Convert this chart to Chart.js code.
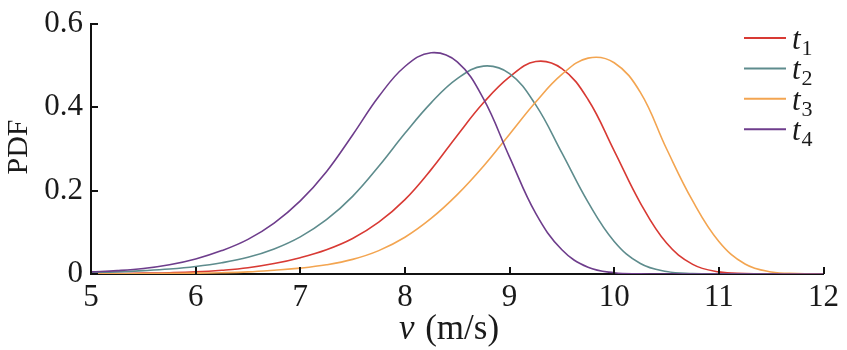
<!DOCTYPE html>
<html><head><meta charset="utf-8">
<script src="https://cdn.jsdelivr.net/npm/chart.js@4.4.0/dist/chart.umd.min.js"></script>
<style>html,body{margin:0;padding:0;background:#fff;}#wrap{width:847px;height:350px;}</style>
</head><body><div id="wrap"><canvas id="c" width="847" height="350"></canvas></div>
<script>
// wind speed v (m/s)
const speeds = [5.0,5.25,5.5,5.75,6.0,6.25,6.5,6.75,7.0,7.25,7.5,7.75,8.0,8.25,8.5,8.75,9.0,9.25,9.5,9.75,10.0,10.25,10.5,10.75,11.0,11.25,11.5,11.75,12.0];
// PDF values
const t1Values = [0.001,0.001,0.002,0.003,0.005,0.009,0.015,0.025,0.039,0.058,0.085,0.124,0.178,0.250,0.332,0.410,0.472,0.509,0.492,0.418,0.295,0.170,0.074,0.023,0.005,0.001,0,0,0];
const t2Values = [0.003,0.005,0.008,0.012,0.018,0.027,0.040,0.060,0.089,0.130,0.186,0.258,0.337,0.410,0.468,0.498,0.480,0.405,0.290,0.172,0.078,0.025,0.006,0.001,0,0,0,0,0];
const t3Values = [0,0.0005,0.001,0.0015,0.002,0.003,0.005,0.009,0.014,0.022,0.035,0.056,0.088,0.133,0.190,0.258,0.335,0.412,0.478,0.517,0.506,0.435,0.300,0.175,0.078,0.024,0.005,0.001,0];
const t4Values = [0.005,0.008,0.013,0.022,0.036,0.056,0.083,0.122,0.175,0.245,0.333,0.425,0.497,0.530,0.508,0.420,0.280,0.145,0.058,0.016,0.003,0.0005,0,0,0,0,0,0,0];
const seriesBase = ['t','t','t','t'];
const seriesSub = ['1','2','3','4'];
const xTicks = [5,6,7,8,9,10,11,12];
const yTicks = [0,0.2,0.4,0.6];
const xTitleItalic = 'v';
const xTitleRest = ' (m/s)';
const yTitle = 'PDF';

const colors = ['#d83a34','#5e8c8d','#f3a551','#6e3d8c'];
const FONT = '"Liberation Serif", "Times New Roman", serif';

function pts(vals){ return speeds.map((x,i)=>({x:x,y:vals[i]})); }
const allVals = [t1Values,t2Values,t3Values,t4Values];
const datasets = allVals.map((v,i)=>({
  label: seriesBase[i]+seriesSub[i],
  data: pts(v),
  borderColor: colors[i],
  backgroundColor: colors[i],
  borderWidth: 1.6,
  pointRadius: 0,
  tension: 0.4,
  fill: false,
  order: 4-i
}));

const decor = {
  id:'decor',
  afterDraw(chart){
    const ctx = chart.ctx, a = chart.chartArea;
    const xs = chart.scales.x, ys = chart.scales.y;
    ctx.save();
    ctx.strokeStyle = '#111'; ctx.lineWidth = 2;
    xTicks.forEach(t=>{ const p = Math.round(xs.getPixelForValue(t)); ctx.beginPath(); ctx.moveTo(p, a.bottom); ctx.lineTo(p, a.bottom-7); ctx.stroke(); });
    yTicks.forEach(t=>{ const p = Math.round(ys.getPixelForValue(t)); ctx.beginPath(); ctx.moveTo(a.left, p); ctx.lineTo(a.left+7, p); ctx.stroke(); });
    // x title
    ctx.fillStyle = '#1a1a1a';
    ctx.textBaseline = 'alphabetic';
    ctx.font = 'italic 35px ' + FONT;
    const w1 = ctx.measureText(xTitleItalic).width;
    ctx.font = '35px ' + FONT;
    const w2 = ctx.measureText(xTitleRest).width;
    let x0 = 448 - (w1+w2)/2;
    ctx.font = 'italic 35px ' + FONT; ctx.textAlign='left';
    ctx.fillText(xTitleItalic, x0, 339);
    ctx.font = '35px ' + FONT;
    ctx.fillText(xTitleRest, x0+w1+2, 339);
    // y title
    ctx.save();
    ctx.translate(27, 147);
    ctx.rotate(-Math.PI/2);
    ctx.textAlign='center'; ctx.textBaseline='alphabetic';
    ctx.font = '30px ' + FONT;
    ctx.fillText(yTitle, 0, 0);
    ctx.restore();
    // legend
    for(let i=0;i<4;i++){
      const y = 38 + i*30.4;
      ctx.strokeStyle = colors[i]; ctx.lineWidth = 2;
      ctx.beginPath(); ctx.moveTo(744, y); ctx.lineTo(786, y); ctx.stroke();
      ctx.fillStyle = '#1a1a1a';
      ctx.textAlign='left'; ctx.textBaseline='alphabetic';
      ctx.font = 'italic 31px ' + FONT;
      ctx.fillText(seriesBase[i], 792, y+11);
      const tw = ctx.measureText(seriesBase[i]).width;
      ctx.font = '22px ' + FONT;
      ctx.fillText(seriesSub[i], 792+tw+1, y+17);
    }
    ctx.restore();
  }
};

new Chart(document.getElementById('c'), {
  type:'line',
  data:{datasets},
  options:{
    responsive:false, animation:false, devicePixelRatio:1,
    layout:{padding:{left:0,right:18,top:17,bottom:0}},
    plugins:{legend:{display:false}, tooltip:{enabled:false}},
    scales:{
      x:{type:'linear', min:5, max:12,
        afterFit(s){ s.height = 76; },
        afterBuildTicks(s){ s.ticks = xTicks.map(v=>({value:v})); },
        grid:{display:true, drawOnChartArea:false, drawTicks:false},
        border:{display:true, color:'#111', width:2},
        ticks:{padding:8, color:'#1a1a1a', font:{family:FONT, size:31, lineHeight:1}, maxRotation:0, autoSkip:false, callback:v=>String(v)}
      },
      y:{type:'linear', min:0, max:0.6,
        afterFit(s){ s.width = 91; },
        afterBuildTicks(s){ s.ticks = yTicks.map(v=>({value:v})); },
        grid:{display:true, drawOnChartArea:false, drawTicks:false},
        border:{display:true, color:'#111', width:2},
        ticks:{padding:8, color:'#1a1a1a', font:{family:FONT, size:31, lineHeight:1}, callback:v=> v===0?'0':v.toFixed(1)}
      }
    }
  },
  plugins:[decor]
});
</script></body></html>
